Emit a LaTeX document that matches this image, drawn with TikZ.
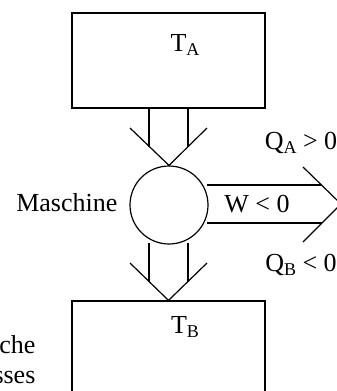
\documentclass[tikz,border=0pt]{standalone}
\usepackage{fontspec}
\setmainfont{Liberation Serif}
\newcommand{\lowsub}[1]{\raisebox{-0.3ex}{\fontsize{18}{20}\selectfont #1}}
\begin{document}
\begin{tikzpicture}[x=1pt, y=-1pt, line width=1.2pt,
  every node/.style={inner sep=0pt, font=\fontsize{26}{30}\selectfont},
  reservoir/.style={draw, rectangle, minimum width=193pt, minimum height=95pt}]
  \useasboundingbox (0,0) rectangle (337,391);
  \clip (0,0) rectangle (337,391);
  % Reservoirs and machine
  \node[reservoir] (rA) at (168.5,60.5) {};
  \node[draw, rectangle, minimum width=193pt, minimum height=130pt] (rB) at (168.5,366) {};
  \node[draw, circle, minimum size=78pt] (m) at (169,205) {};
  % Labels
  \node (tA) at (185,45) {T\lowsub{A}};
  \node (tB) at (185,327) {T\lowsub{B}};
  \node[anchor=east] (lm) at (118,203) {Maschine};
  \node (qA) at (301,143) {Q\lowsub{A} > 0};
  \node (w) at (257,204) {W < 0};
  \node (qB) at (301,265) {Q\lowsub{B} < 0};
  \node[anchor=east] (c1) at (36,345) {che};
  \node[anchor=east] (c2) at (36,377) {sses};
  % Heat flow from A into the machine
  \coordinate (a1) at (149,147);
  \coordinate (a2) at (188,147);
  \draw (rA.south -| a1) -- (a1);
  \draw (rA.south -| a2) -- (a2);
  \draw (130,128) -- (m.north) -- (207,128);
  % Heat flow from the machine into B
  \coordinate (b1) at (149,282);
  \coordinate (b2) at (188,282);
  \draw (149,243) -- (b1);
  \draw (188,243) -- (b2);
  \draw (130,263) -- (rB.north) -- (207,263);
  % Work out of the machine
  \coordinate (wtip) at (341,204);
  \draw (207,185) -- (321,185);
  \draw (207,223) -- (322,223);
  \draw (303,167) -- (wtip) -- (303,242);
\end{tikzpicture}
\end{document}
